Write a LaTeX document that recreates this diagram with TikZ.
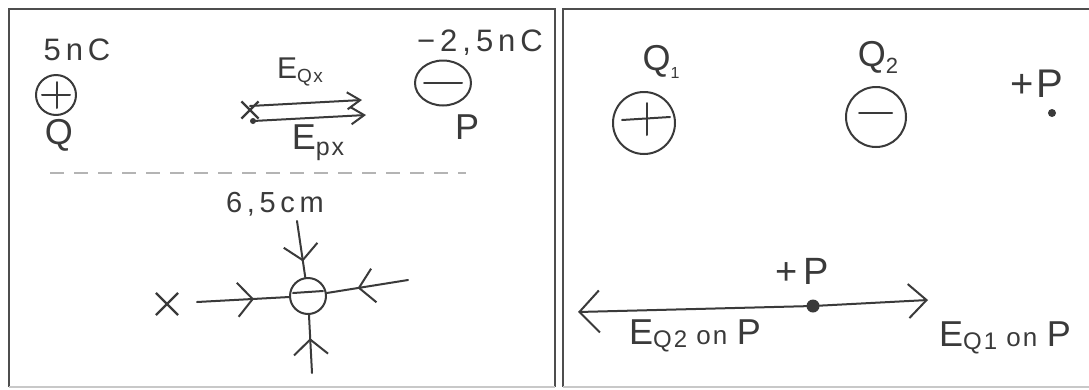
\documentclass[tikz,border=0pt]{standalone}
\usepackage{fontspec}
\setmainfont{Liberation Sans}[LetterSpace=8]
\usetikzlibrary{arrows.meta,shapes.geometric,shapes.misc,decorations.markings,calc}
\definecolor{ink}{HTML}{3A3A3A}
\definecolor{frame}{HTML}{4E4E4E}
\definecolor{dashgray}{HTML}{B4B4B4}
\definecolor{edgegray}{HTML}{C8C8C8}
\newcommand\hw[1]{\fontsize{#1}{#1}\selectfont}
\newcommand\spaced{\addfontfeature{LetterSpace=16}}
\tikzset{
  pencil/.style={draw=ink, line width=2pt, line cap=round, line join=round},
  lbl/.style={text=ink, inner sep=0pt},
  charge/.style={circle, pencil, inner sep=0pt, minimum size=#1},
  xmark/.style={cross out, draw=ink, line width=2.2pt, inner sep=0pt, minimum size=#1},
  dotnode/.style={circle, fill=ink, inner sep=0pt, minimum size=#1},
  midarrow/.style={postaction={decorate}, decoration={markings,
      mark=at position #1 with {\arrow{Straight Barb[length=15pt,width=34pt,line width=2pt]}}}},
  framestyle/.style={draw=frame, line width=2.6pt},
  dashline/.style={draw=dashgray, line width=2pt, dash pattern=on 14pt off 10pt}
}
\begin{document}
\begin{tikzpicture}[x=1pt,y=-1pt]
\useasboundingbox (0,0) rectangle (1089,389);
\fill[white] (0,0) rectangle (1089,389);
% ---------- frames ----------
\coordinate (lf1) at (9,387);
\coordinate (lf2) at (9,9);
\coordinate (lf3) at (555,9);
\coordinate (lf4) at (555,387);
\draw[framestyle] (lf1) -- (lf2) -- (lf3) -- (lf4);
\draw[draw=edgegray, line width=1.5pt] (lf1) -- (lf4);
\coordinate (rf1) at (563,387);
\coordinate (rf2) at (563,9);
\coordinate (rf3) at (1092,9);
\coordinate (rf4) at (1092,387);
\draw[framestyle] (rf1) -- (rf2) -- (rf3);
\draw[draw=edgegray, line width=1.5pt] (rf1) -- (rf4);
% ---------- left panel, top ----------
\node[lbl] (qch) at (77,50) {\hw{31}\spaced 5nC};
\node[charge=40pt] (q) at (56,95) {};
\draw[pencil] ($(q)+(-14,0)$) -- ($(q)+(14,0)$);
\draw[pencil] ($(q)+(1,-13)$) -- ($(q)+(1,13)$);
\node[lbl] (qlab) at (59,135) {\hw{36}Q};
\node[lbl] (pch) at (480,43) {\hw{31}\spaced −2,5nC};
\node[ellipse, pencil, inner sep=0pt, minimum width=56pt, minimum height=45pt] (p) at (443,83) {};
\draw[pencil] ($(p)+(-19,0)$) -- ($(p)+(19,0)$);
\node[lbl] (plab) at (467,127) {\hw{36}P};
\node[lbl] (eqx) at (300,72) {\hw{30}E\raisebox{-4pt}{\hw{19}Qx}};
\node[xmark=15pt] (xq) at (250,110) {};
\coordinate (a1s) at (250,106);
\coordinate (a1e) at (362,100);
\draw[pencil, -{Straight Barb[length=13pt,width=17pt]}] (a1s) -- (a1e);
\node[dotnode=6pt] (xd) at (253,121) {};
\coordinate (a2e) at (366,115);
\draw[pencil, -{Straight Barb[length=13pt,width=17pt]}] (xd.center) -- (a2e);
\node[lbl] (epx) at (318,143) {\hw{36}E\raisebox{-6pt}{\hw{25}px}};
\coordinate (d1) at (50,173);
\coordinate (d2) at (466,173);
\draw[dashline] (d1) -- (d2);
% ---------- left panel, bottom ----------
\node[lbl] (dist) at (275,204) {\hw{29}\spaced 6,5cm};
\node[charge=36pt] (c3) at (308,296) {};
\draw[pencil] ($(c3)+(-15,-3)$) -- ($(c3)+(15,-5)$);
\coordinate (ftop) at (297,221);
\coordinate (fleft) at (197,302);
\coordinate (fright) at (408,280);
\coordinate (fbot) at (312,373);
\draw[pencil, midarrow=0.72] (ftop) -- (c3);
\draw[pencil, midarrow=0.62] (fleft) -- (c3);
\draw[pencil, midarrow=0.62] (fright) -- (c3);
\draw[pencil, midarrow=0.6] (fbot) -- (c3);
\node[xmark=20pt] (xb) at (167,304) {};
% ---------- right panel, top ----------
\node[lbl] (q1lab) at (661,62) {\hw{36}Q\raisebox{-8pt}{\hw{16}1}};
\node[charge=62pt] (q1) at (644,123) {};
\draw[pencil] ($(q1)+(-22,-3)$) -- ($(q1)+(26,-6)$);
\draw[pencil] ($(q1)+(3,-20)$) -- ($(q1)+(3,12)$);
\node[lbl] (q2lab) at (878,57) {\hw{36}Q\raisebox{-7pt}{\hw{22}2}};
\node[charge=60pt] (q2) at (876,117) {};
\draw[pencil] ($(q2)+(-17,-4)$) -- ($(q2)+(16,-4)$);
\node[lbl] (ptlab) at (1037,84) {\hw{40}+P};
\node[dotnode=8pt] (pt) at (1052,113) {};
% ---------- right panel, bottom ----------
\node[lbl] (pdlab) at (802,271) {\hw{38}+\,P};
\node[dotnode=13pt] (pd) at (813,306) {};
\coordinate (lt) at (578,312);
\coordinate (rt) at (928,300);
\draw[pencil, -{Straight Barb[length=20pt,width=42pt]}] (pd.center) -- (lt);
\draw[pencil, -{Straight Barb[length=18pt,width=34pt]}] (pd.center) -- (rt);
\node[lbl] (eq2) at (695,336) {\hw{36}E\raisebox{-3pt}{\hw{24}Q2}\hw{26} on \hw{36}P};
\node[lbl] (eq1) at (1005,338) {\hw{36}E\raisebox{-3pt}{\hw{24}Q1}\hw{26} on \hw{36}P};
\end{tikzpicture}
\end{document}
